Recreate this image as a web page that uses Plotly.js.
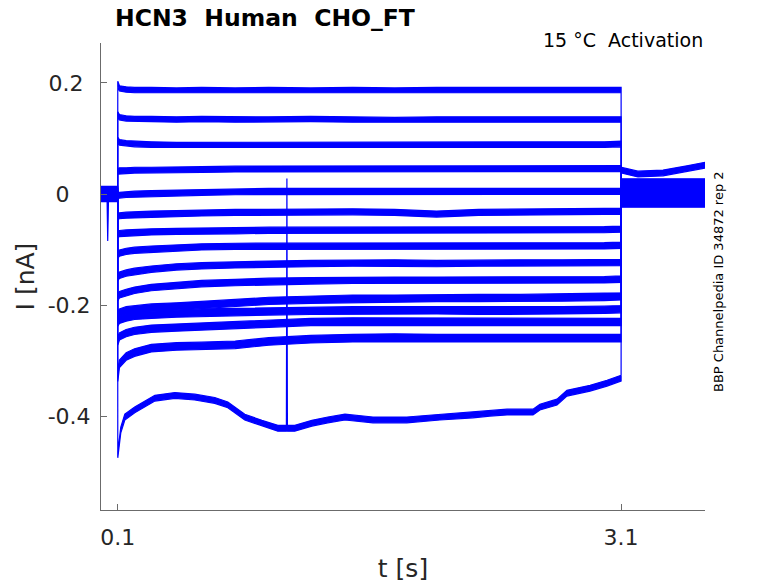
<!DOCTYPE html>
<html>
<head>
<meta charset="utf-8">
<script src="https://cdn.plot.ly/plotly-3.0.1.min.js"></script>
<style>html,body{margin:0;padding:0;background:#fff;}#chart{width:778px;height:583px;}</style>
</head>
<body>
<div id="chart"></div>
<script>
// Sample times (s) during the activation step for traces 1-14
const T = [0.1, 0.11, 0.15, 0.2, 0.3, 0.45, 0.6, 0.8, 1.0, 1.25, 1.5, 1.75, 2.0, 2.25, 2.5, 2.75, 3.0, 3.1];

// Current (nA) of traces 1-14 during the step
const I01 = [0.198, 0.190, 0.188, 0.187, 0.187, 0.186, 0.187, 0.186, 0.187, 0.186, 0.187, 0.186, 0.187, 0.187, 0.186, 0.186, 0.187, 0.187];
const I02 = [0.143, 0.138, 0.136, 0.135, 0.135, 0.134, 0.135, 0.134, 0.134, 0.135, 0.134, 0.133, 0.134, 0.134, 0.133, 0.134, 0.134, 0.134];
const I03 = [0.097, 0.093, 0.091, 0.090, 0.089, 0.088, 0.088, 0.088, 0.088, 0.089, 0.088, 0.088, 0.088, 0.089, 0.089, 0.089, 0.089, 0.090];
const I04 = [0.041, 0.042, 0.042, 0.043, 0.043, 0.044, 0.044, 0.045, 0.045, 0.045, 0.045, 0.045, 0.046, 0.046, 0.046, 0.046, 0.046, 0.046];
const I05 = [-0.003, -0.002, -0.001, 0.000, 0.001, 0.002, 0.003, 0.004, 0.005, 0.005, 0.005, 0.004, 0.004, 0.004, 0.004, 0.004, 0.005, 0.005];
const I06 = [-0.040, -0.039, -0.038, -0.037, -0.036, -0.035, -0.034, -0.033, -0.033, -0.032, -0.032, -0.033, -0.036, -0.033, -0.032, -0.032, -0.031, -0.031];
const I07 = [-0.073, -0.071, -0.070, -0.069, -0.068, -0.067, -0.066, -0.066, -0.065, -0.065, -0.065, -0.065, -0.065, -0.064, -0.064, -0.064, -0.064, -0.063];
const I08 = [-0.110, -0.106, -0.103, -0.101, -0.099, -0.097, -0.095, -0.094, -0.094, -0.093, -0.093, -0.094, -0.094, -0.094, -0.094, -0.093, -0.093, -0.092];
const I09 = [-0.150, -0.146, -0.142, -0.139, -0.135, -0.131, -0.129, -0.127, -0.126, -0.125, -0.124, -0.124, -0.125, -0.124, -0.124, -0.124, -0.123, -0.123];
const I10 = [-0.186, -0.181, -0.177, -0.173, -0.168, -0.164, -0.161, -0.159, -0.157, -0.156, -0.155, -0.155, -0.155, -0.155, -0.154, -0.154, -0.154, -0.153];
const I11 = [-0.218, -0.213, -0.209, -0.207, -0.204, -0.202, -0.200, -0.196, -0.192, -0.190, -0.188, -0.188, -0.187, -0.187, -0.187, -0.186, -0.185, -0.184];
const I12 = [-0.231, -0.226, -0.222, -0.219, -0.217, -0.215, -0.213, -0.212, -0.211, -0.210, -0.209, -0.209, -0.209, -0.210, -0.210, -0.209, -0.208, -0.207];
const I13 = [-0.265, -0.256, -0.250, -0.246, -0.242, -0.240, -0.239, -0.236, -0.233, -0.230, -0.229, -0.229, -0.229, -0.230, -0.230, -0.230, -0.230, -0.230];
const I14 = [-0.330, -0.305, -0.292, -0.285, -0.277, -0.274, -0.273, -0.271, -0.265, -0.261, -0.259, -0.258, -0.259, -0.259, -0.259, -0.259, -0.259, -0.259];

// Trace 15 (largest activation) has its own sampling, including the glitch near 1.108 s
const T15 = [0.100, 0.118, 0.142, 0.201, 0.321, 0.440, 0.559, 0.678, 0.756, 0.857, 0.959, 1.054, 1.105, 1.108, 1.111, 1.155, 1.257, 1.352, 1.454, 1.621, 1.823, 2.020, 2.217, 2.318, 2.420, 2.575, 2.616, 2.718, 2.777, 2.915, 3.016, 3.100];
const I15 = [-0.469, -0.424, -0.401, -0.388, -0.367, -0.362, -0.365, -0.371, -0.379, -0.401, -0.412, -0.421, -0.421, 0.023, -0.421, -0.421, -0.412, -0.406, -0.401, -0.406, -0.406, -0.401, -0.397, -0.394, -0.392, -0.392, -0.383, -0.374, -0.358, -0.349, -0.340, -0.331];

// Holding current before the step (t 0 - 0.1 s), one level per trace
const PRE_T = [0, 0.0995];
const PRE = [-0.006, 0.002, -0.002, 0.006, 0.000, -0.004, 0.004, -0.008, 0.008, -0.001, 0.003, -0.005, 0.005, -0.003, 0.001];
// Artefact spike on trace 5 before the step
const SPIKE_T = [0.036, 0.040, 0.045];
const SPIKE_I = [0.000, -0.079, 0.000];

// Current after the step (t 3.1 - 3.6 s)
const POST_T = [3.1005, 3.6];
const POST = [0.004, 0.010, -0.006, 0.016, -0.012, 0.022, 0.000, -0.018, 0.007, -0.003, 0.013, -0.009, 0.019, -0.015];
const TAIL15_T = [3.1005, 3.2, 3.35, 3.5, 3.6];
const TAIL15 = [0.043, 0.036, 0.038, 0.046, 0.052];

const STEP = [I01, I02, I03, I04, I05, I06, I07, I08, I09, I10, I11, I12, I13, I14];

// Style: half-width (nA) of the recording-noise band drawn around each trace (traces 1-15)
const NOISE_HALF = [0.0048, 0.0048, 0.0050, 0.0052, 0.0052, 0.0054, 0.0055, 0.0056, 0.0057, 0.0058, 0.0065, 0.0065, 0.0065, 0.0068, 0.0052];

const FONT = 'DejaVu Sans, Verdana, sans-serif';
const BLUE = '#0000ff';

function bandTrace(xs, ys, half) {
  const up = ys.map(function (v) { return v + half; });
  const lo = ys.map(function (v) { return v - half; }).reverse();
  return {
    type: 'scatter', mode: 'lines',
    x: xs.concat(xs.slice().reverse()),
    y: up.concat(lo),
    fill: 'toself', fillcolor: BLUE,
    line: {color: BLUE, width: 1.2},
    hoverinfo: 'skip', showlegend: false
  };
}

const data = [];
STEP.forEach(function (vals, k) {
  let xs, ys;
  if (k === 4) {
    xs = [PRE_T[0]].concat(SPIKE_T, [PRE_T[1]]);
    ys = [PRE[k]].concat(SPIKE_I, [PRE[k]]);
  } else {
    xs = PRE_T.slice();
    ys = [PRE[k], PRE[k]];
  }
  xs = xs.concat(T, POST_T);
  ys = ys.concat(vals, [POST[k], POST[k]]);
  data.push(bandTrace(xs, ys, NOISE_HALF[k]));
});
data.push(bandTrace(
  PRE_T.concat(T15, TAIL15_T),
  [PRE[14], PRE[14]].concat(I15, TAIL15),
  NOISE_HALF[14]
));

const axisCommon = {
  showline: true, linecolor: '#6b6b6b', linewidth: 1,
  ticks: 'inside', ticklen: 6, tickcolor: '#6b6b6b', tickwidth: 1,
  showgrid: false, zeroline: false, mirror: false,
  tickfont: {family: FONT, size: 22, color: '#262626'}
};

const layout = {
  width: 778, height: 583,
  margin: {l: 101, r: 73, t: 43, b: 73, pad: 0},
  paper_bgcolor: '#ffffff', plot_bgcolor: '#ffffff',
  showlegend: false,
  title: {
    text: '<b>HCN3\u00a0 Human\u00a0 CHO_FT</b>',
    font: {family: FONT, size: 23.5, color: '#000000'},
    xref: 'container', x: 115 / 778, xanchor: 'left',
    yref: 'container', y: 1 - 18 / 583, yanchor: 'middle'
  },
  xaxis: Object.assign({}, axisCommon, {
    range: [0, 3.6],
    tickvals: [0.1, 3.1], ticktext: ['0.1', '3.1'],
    ticklabelstandoff: 8,
    title: {text: 't [s]', font: {family: FONT, size: 25, color: '#262626'}, standoff: 10}
  }),
  yaxis: Object.assign({}, axisCommon, {
    range: [-0.568, 0.2716],
    tickvals: [-0.4, -0.2, 0, 0.2], ticktext: ['-0.4', '-0.2', '0\u00a0\u00a0\u00a0', '0.2\u00a0'],
    ticklabelstandoff: 5,
    title: {text: 'I [nA]', font: {family: FONT, size: 25, color: '#262626'}, standoff: 5}
  }),
  annotations: [
    {text: '15 °C\u00a0 Activation', xref: 'paper', yref: 'paper', x: 1, y: 1, xanchor: 'right', yanchor: 'middle', yshift: 3, showarrow: false,
     font: {family: FONT, size: 19, color: '#000000'}},
    {text: 'BBP Channelpedia ID 34872 rep 2', xref: 'paper', yref: 'paper', x: (718 - 101) / 604, y: (510 - 282) / 467, xanchor: 'center', yanchor: 'middle', textangle: -90, showarrow: false,
     font: {family: FONT, size: 13, color: '#000000'}}
  ]
};

Plotly.newPlot('chart', data, layout, {staticPlot: true, displayModeBar: false});
</script>
</body>
</html>
